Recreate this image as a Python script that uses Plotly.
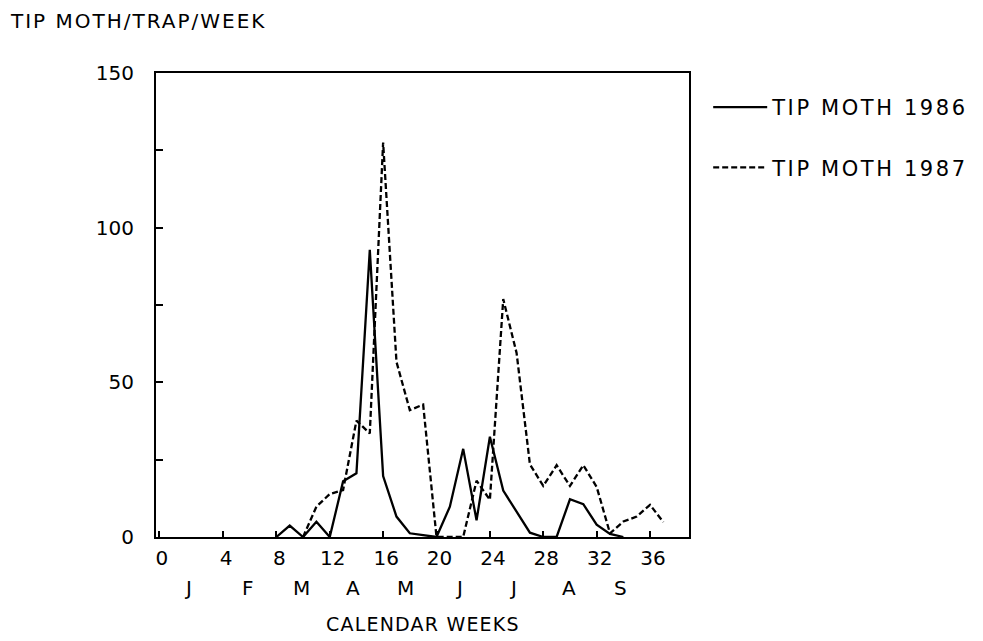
import plotly.graph_objects as go

# ---- data ----
weeks_1986 = list(range(8, 35))
moths_1986 = [0, 3.7, 0, 4.9, 0, 18, 20.6, 92.8, 19.7, 6.6, 1.2, 0.5, 0,
              9.8, 28.5, 5.4, 32.4, 15, 8, 1.4, 0, 0, 12.2, 10.6, 4, 1, 0]

weeks_1987 = list(range(10, 38))
moths_1987 = [0, 9.8, 13.9, 15.2, 37.6, 33.5, 127.5, 56.6, 41, 42.8, 0, 0, 0,
              18.2, 12, 76.9, 59.5, 23.5, 16.5, 23.2, 16.5, 23.2, 16.2, 1.2,
              5, 6.6, 10.4, 4.8]

x_tick_weeks = [0, 4, 8, 12, 16, 20, 24, 28, 32, 36]
x_tick_labels = ["0", "4", "8", "12", "16", "20", "24", "28", "32", "36"]

month_labels = ["J", "F", "M", "A", "M", "J", "J", "A", "S"]
month_weeks = [1.4, 5.9, 9.85, 13.75, 17.7, 21.7, 25.7, 29.9, 33.8]

y_tick_vals = [0, 25, 50, 75, 100, 125, 150]
y_tick_labels = ["0", "", "50", "", "100", "", "150"]

legend_names = ["TIP MOTH 1986", "TIP MOTH 1987"]
y_title = "TIP MOTH/TRAP/WEEK"
x_title = "CALENDAR WEEKS"

# ---- figure ----
FONT = "DejaVu Sans"
X_MIN, X_MAX = -1.02, 38.92


def spaced(txt, px):
    return f"<span style='letter-spacing:{px}px'>{txt}</span>"


fig = go.Figure()
fig.add_trace(go.Scatter(x=weeks_1986, y=moths_1986, mode="lines",
                         name=spaced(legend_names[0], 2.6), legendgroup="a",
                         line=dict(color="black", width=2.3)))
fig.add_trace(go.Scatter(x=weeks_1987, y=moths_1987, mode="lines",
                         name=spaced(legend_names[1], 2.6), legendgroup="b",
                         line=dict(color="black", width=2.3, dash="6px,3px")))

# put the "0" label at the left edge of the frame as in the original
tickvals = [X_MIN + 0.22 if w == 0 else w for w in x_tick_weeks]

fig.update_xaxes(range=[X_MIN, X_MAX], showline=True, mirror=True,
                 linecolor="black", linewidth=2, ticks="inside", ticklen=6,
                 tickwidth=2, tickcolor="black", tickvals=tickvals,
                 ticktext=x_tick_labels, showgrid=False, zeroline=False,
                 ticklabelstandoff=2, ticklabelshift=3,
                 tickfont=dict(family=FONT, size=20, color="black"))
fig.update_yaxes(range=[0, 150], showline=True, mirror=True,
                 linecolor="black", linewidth=2, ticks="inside", ticklen=7,
                 tickwidth=2, tickcolor="black", tickvals=y_tick_vals,
                 ticktext=y_tick_labels, showgrid=False, zeroline=False,
                 ticklabelstandoff=16,
                 tickfont=dict(family=FONT, size=20, color="black"))

for m, w in zip(month_labels, month_weeks):
    fig.add_annotation(x=w, y=-0.11, xref="x", yref="paper", text=m,
                       showarrow=False, yanchor="middle", xanchor="center",
                       font=dict(family=FONT, size=20, color="black"))

fig.add_annotation(x=0.5, y=-0.188, xref="paper", yref="paper",
                   text=spaced(x_title, 1.2), showarrow=False,
                   yanchor="middle", xanchor="center",
                   font=dict(family=FONT, size=19, color="black"))
fig.add_annotation(x=-0.277, y=1.112, xref="paper", yref="paper",
                   text=spaced(y_title, 2), showarrow=False,
                   yanchor="middle", xanchor="left",
                   font=dict(family=FONT, size=20, color="black"))

fig.update_layout(
    width=983, height=641, autosize=False,
    margin=dict(l=148, r=302, t=65, b=112),
    paper_bgcolor="white", plot_bgcolor="white",
    showlegend=True,
    legend=dict(x=1.036, y=0.97, xanchor="left", yanchor="top",
                bgcolor="rgba(0,0,0,0)", borderwidth=0, itemwidth=54,
                tracegroupgap=30,
                font=dict(family=FONT, size=21, color="black")),
)

fig.write_html("out.html")
